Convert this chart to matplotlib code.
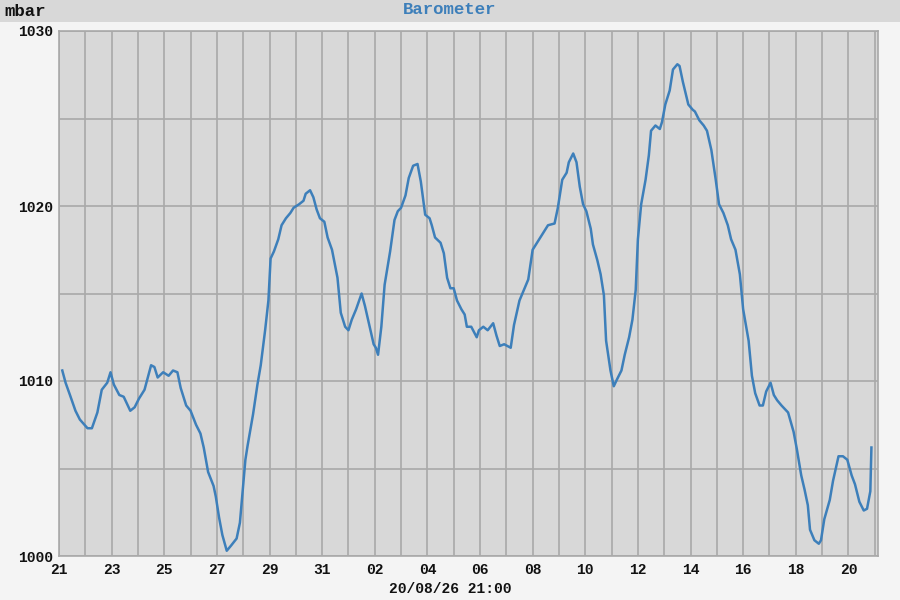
import matplotlib
matplotlib.use("Agg")
import matplotlib.pyplot as plt
from matplotlib.patches import Rectangle

# hours since 21 Jul 00:00
hours = [3, 6, 10, 15, 19, 26, 30, 35, 39, 44, 47, 50, 55, 59, 65, 69, 73, 78, 81, 84,
         87, 90, 95, 100, 104, 108, 111, 116, 120, 125, 129, 132, 136, 141, 143, 146, 149, 153, 157, 162,
         165, 170, 172, 177, 181, 184, 188, 191, 193, 196, 200, 203, 207, 211, 214, 219, 223, 225, 229, 232,
         235, 238, 242, 245, 249, 254, 257, 261, 264, 267, 271, 276, 279, 283, 287, 289, 291, 294, 297, 302,
         306, 309, 312, 316, 319, 323, 327, 330, 334, 338, 340, 343, 348, 351, 354, 357, 360, 363, 367, 370,
         372, 376, 381, 383, 387, 391, 396, 399, 402, 406, 412, 415, 420, 424, 428, 432, 435, 439, 443, 446,
         452, 455, 459, 463, 465, 469, 472, 475, 478, 481, 485, 487, 491, 494, 497, 499, 503, 506, 509, 513,
         516, 520, 523, 526, 528, 531, 535, 538, 540, 544, 548, 550, 553, 557, 560, 564, 566, 569, 574, 578,
         580, 584, 588, 591, 595, 599, 602, 606, 610, 613, 617, 621, 624, 629, 632, 635, 639, 642, 645, 649,
         652, 655, 659, 665, 670, 673, 677, 680, 683, 685, 689, 693, 695, 698, 703, 706, 711, 715, 719, 723,
         726, 730, 734, 737, 740, 741]
pressure = [1010.6, 1009.9, 1009.2, 1008.3, 1007.8, 1007.3, 1007.3, 1008.2, 1009.5, 1009.9, 1010.5, 1009.8, 1009.2, 1009.1, 1008.3, 1008.5, 1009.0, 1009.5, 1010.2, 1010.9,
            1010.8, 1010.2, 1010.5, 1010.3, 1010.6, 1010.5, 1009.6, 1008.6, 1008.3, 1007.5, 1007.0, 1006.2, 1004.8, 1004.0, 1003.4, 1002.2, 1001.2, 1000.3, 1000.6, 1001.0,
            1001.9, 1005.5, 1006.3, 1008.1, 1009.8, 1010.9, 1012.9, 1014.6, 1017.0, 1017.4, 1018.1, 1018.9, 1019.3, 1019.6, 1019.9, 1020.1, 1020.3, 1020.7, 1020.9, 1020.5,
            1019.8, 1019.3, 1019.1, 1018.2, 1017.5, 1015.9, 1013.9, 1013.1, 1012.9, 1013.5, 1014.1, 1015.0, 1014.3, 1013.2, 1012.1, 1011.9, 1011.5, 1013.1, 1015.5, 1017.4,
            1019.2, 1019.7, 1019.9, 1020.6, 1021.6, 1022.3, 1022.4, 1021.4, 1019.5, 1019.3, 1018.9, 1018.2, 1017.9, 1017.3, 1015.9, 1015.3, 1015.3, 1014.6, 1014.1, 1013.8,
            1013.1, 1013.1, 1012.5, 1012.9, 1013.1, 1012.9, 1013.3, 1012.6, 1012.0, 1012.1, 1011.9, 1013.2, 1014.6, 1015.2, 1015.8, 1017.5, 1017.8, 1018.2, 1018.6, 1018.9,
            1019.0, 1019.9, 1021.5, 1021.9, 1022.5, 1023.0, 1022.5, 1021.1, 1020.1, 1019.7, 1018.7, 1017.8, 1016.9, 1016.1, 1014.9, 1012.3, 1010.6, 1009.7, 1010.1, 1010.6,
            1011.5, 1012.5, 1013.5, 1015.2, 1018.1, 1020.1, 1021.5, 1022.9, 1024.3, 1024.6, 1024.4, 1024.8, 1025.8, 1026.6, 1027.8, 1028.1, 1028.0, 1027.1, 1025.8, 1025.5,
            1025.4, 1024.9, 1024.6, 1024.3, 1023.2, 1021.5, 1020.1, 1019.6, 1018.9, 1018.1, 1017.5, 1016.1, 1014.1, 1012.3, 1010.3, 1009.3, 1008.6, 1008.6, 1009.4, 1009.9,
            1009.2, 1008.9, 1008.6, 1008.2, 1007.1, 1006.1, 1004.6, 1003.8, 1002.9, 1001.5, 1000.9, 1000.7, 1000.9, 1002.1, 1003.2, 1004.3, 1005.7, 1005.7, 1005.5, 1004.6,
            1004.1, 1003.1, 1002.6, 1002.7, 1003.7, 1006.2]

day_labels = ["21", "23", "25", "27", "29", "31", "02", "04", "06", "08", "10",
              "12", "14", "16", "18", "20"]
y_labels = ["1000", "1010", "1020", "1030"]
title = "Barometer"
unit = "mbar"
footer = "20/08/26 21:00"

BG = "#f4f4f4"
PANEL = "#d8d8d8"
GRID = "#a9a9a9"
LINE = "#3d7fba"
FONT = "Liberation Mono"

fig = plt.figure(figsize=(9, 6), dpi=100, facecolor=BG)
fig.patches.append(Rectangle((0, 1 - 22 / 600), 1, 22 / 600, transform=fig.transFigure,
                             facecolor=PANEL, edgecolor="none", zorder=0))
fig.text(4 / 900, 1 - 11 / 600, unit, ha="left", va="center", fontsize=12.5,
         fontweight="bold", family=FONT, color="#111111")
fig.text(0.5, 1 - 10 / 600, title, ha="center", va="center", fontsize=12.5,
         fontweight="bold", family=FONT, color=LINE)

ax = fig.add_axes([59 / 900, 1 - 556 / 600, (878 - 59) / 900, (556 - 31) / 600])
ax.set_facecolor(PANEL)
ax.plot(hours, pressure, color=LINE, lw=1.8, zorder=3)
ax.set_xlim(0, 747)
ax.set_ylim(1000, 1030)

ax.set_xticks(range(0, 747, 24), minor=True)
ax.set_xticks(range(0, 747, 48))
ax.set_xticklabels(day_labels)
ax.set_yticks([1000, 1005, 1010, 1015, 1020, 1025, 1030], minor=True)
ax.set_yticks([1000, 1010, 1020, 1030])
ax.set_yticklabels(y_labels)
ax.grid(which="both", color=GRID, lw=1.2, zorder=1)
ax.set_axisbelow(True)
ax.tick_params(which="both", length=0)
ax.tick_params(axis="x", pad=5)
ax.tick_params(axis="y", pad=4)
for lab in ax.get_xticklabels() + ax.get_yticklabels():
    lab.set_family(FONT)
    lab.set_fontweight("bold")
    lab.set_fontsize(10.5)
    lab.set_color("#111111")
for s in ax.spines.values():
    s.set_color(GRID)
    s.set_linewidth(1.2)

fig.text(0.5, 1 - 589 / 600, footer, ha="center", va="center", fontsize=10.5,
         fontweight="bold", family=FONT, color="#111111")

fig.savefig("out.png", dpi=100, facecolor=BG)
